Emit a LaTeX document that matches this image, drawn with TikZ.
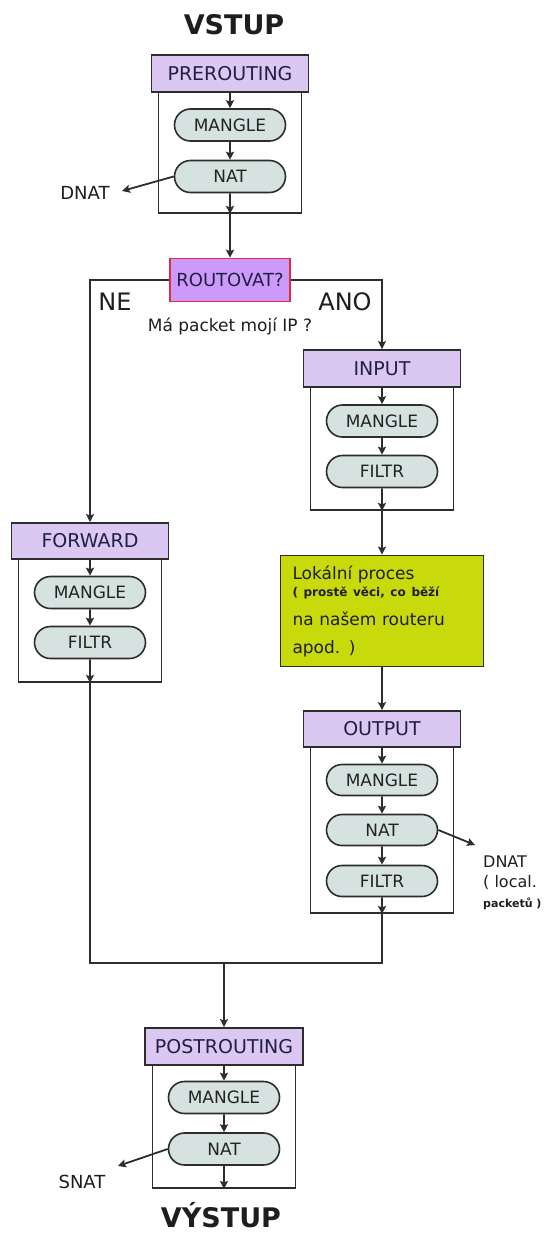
\documentclass[tikz,border=0pt]{standalone}
\usepackage{fontspec}
\setmainfont{DejaVu Sans}
\usetikzlibrary{shapes.misc,arrows.meta,calc}
\definecolor{linec}{RGB}{45,45,45}
\definecolor{hdrfill}{RGB}{218,200,242}
\definecolor{hdrtext}{RGB}{35,30,70}
\definecolor{pillfill}{RGB}{214,226,224}
\definecolor{pilltext}{RGB}{35,35,35}
\definecolor{routfill}{RGB}{204,155,250}
\definecolor{routdraw}{RGB}{228,40,70}
\definecolor{lokfill}{RGB}{200,218,12}
\definecolor{txt}{RGB}{30,30,30}
\begin{document}
\begin{tikzpicture}[x=1pt,y=-1pt,
  line/.style={draw=linec,line width=1.8pt},
  arr/.style={line,-{Stealth[length=8pt,width=8pt,inset=1.5pt]}},
  hdr/.style={draw=linec,line width=1.8pt,fill=hdrfill,minimum width=157pt,minimum height=37pt,inner sep=0pt,font=\fontsize{19}{22}\selectfont,text=hdrtext},
  cont/.style={draw=linec,line width=1.8pt,fill=white,minimum width=143pt,inner sep=0pt},
  pill/.style={rounded rectangle,draw=linec,line width=1.6pt,fill=pillfill,minimum width=111pt,minimum height=32pt,inner sep=0pt,font=\fontsize{17}{20}\selectfont,text=pilltext},
  rout/.style={draw=routdraw,line width=1.6pt,fill=routfill,minimum width=120pt,minimum height=43pt,inner sep=0pt,font=\fontsize{18}{20}\selectfont,text=hdrtext},
  lokbox/.style={draw=linec,line width=1.8pt,fill=lokfill,minimum width=203pt,minimum height=111pt,text width=179pt,align=left,inner sep=0pt,font=\fontsize{17}{28}\selectfont,text=txt},
  title/.style={anchor=base,font=\bfseries\fontsize{27}{30}\selectfont,text=txt},
  lbl/.style={anchor=base,font=\fontsize{18}{20}\selectfont,text=txt},
  branch/.style={anchor=base,font=\fontsize{24}{26}\selectfont,text=txt}
]
\useasboundingbox (0,0) rectangle (555,1234);

% titles
\node[title] (vstup) at (234,34) {VSTUP};
\node[title] (vystup) at (221,1227) {VÝSTUP};

% PREROUTING
\node[cont,minimum height=140pt] (preC) at (230,143) {};
\node[hdr] (preH) at (230,73.5) {PREROUTING};
\node[pill] (preM) at (230,125) {MANGLE};
\node[pill] (preN) at (230,176.5) {NAT};
\draw[arr] (preH) -- (preM);
\draw[arr] (preM) -- (preN);
\draw[arr] (preN) -- (preC.south);
\node[lbl] (dnat1) at (85,199) {DNAT};
\coordinate (dnat1tip) at (122,191);
\draw[arr] (preN.west) -- (dnat1tip);

% ROUTOVAT
\node[rout] (rout) at (230,280) {ROUTOVAT?};
\draw[arr] (preC.south) -- (rout);
\node[branch] (ne) at (115,310) {NE};
\node[branch] (ano) at (345,310) {ANO};
\node[anchor=base,font=\fontsize{17}{20}\selectfont,text=txt] (ma) at (230,331) {Má packet mojí IP ?};

% INPUT
\node[cont,minimum height=141.5pt] (inC) at (382,439.25) {};
\node[hdr] (inH) at (382,368.5) {INPUT};
\node[pill] (inM) at (382,421) {MANGLE};
\node[pill] (inF) at (382,471.5) {FILTR};
\draw[arr] (inH) -- (inM);
\draw[arr] (inM) -- (inF);
\draw[arr] (inF) -- (inC.south);

% local process
\node[lokbox] (lok) at (382,611) {Lokální proces\\[-11pt]{\bfseries\fontsize{12}{14}\selectfont ( prostě věci, co běží}\\[1pt]na našem routeru\\apod. )};
\draw[arr] (inC.south) -- (lok);

% OUTPUT
\node[cont,minimum height=184pt] (outC) at (382,821) {};
\node[hdr,minimum height=36pt] (outH) at (382,729) {OUTPUT};
\node[pill,minimum height=31pt] (outM) at (382,780) {MANGLE};
\node[pill,minimum height=31pt] (outN) at (382,830) {NAT};
\node[pill,minimum height=31pt] (outF) at (382,881) {FILTR};
\draw[arr] (lok) -- (outH);
\draw[arr] (outH) -- (outM);
\draw[arr] (outM) -- (outN);
\draw[arr] (outN) -- (outF);
\draw[arr] (outF) -- (outC.south);
\node[anchor=north west,align=left,inner sep=0pt,font=\fontsize{16}{20}\selectfont,text=txt] (dnat3) at (483,856) {DNAT\\( local.\\{\bfseries\fontsize{11}{13}\selectfont packetů )}};
\coordinate (dnat3tip) at (475,845);
\draw[arr] (outN.east) -- (dnat3tip);

% FORWARD
\node[cont,minimum height=141pt] (fwdC) at (90,611.5) {};
\node[hdr,minimum height=36pt] (fwdH) at (90,541) {FORWARD};
\node[pill] (fwdM) at (90,592.5) {MANGLE};
\node[pill] (fwdF) at (90,642.5) {FILTR};
\draw[arr] (fwdH) -- (fwdM);
\draw[arr] (fwdM) -- (fwdF);
\draw[arr] (fwdF) -- (fwdC.south);

% branches from ROUTOVAT
\draw[arr] (rout.west) -| (fwdH.north);
\draw[arr] (rout.east) -| (inH.north);

% merge
\coordinate (mL) at (90,963);
\coordinate (mR) at (382,963);
\coordinate (mM) at (224,963);
\draw[line] (fwdC.south) -- (mL) -- (mR) -- (outC.south);

% POSTROUTING
\node[cont,minimum height=141.5pt] (postC) at (224,1117.25) {};
\node[hdr,minimum width=158pt] (postH) at (224,1046.5) {POSTROUTING};
\node[pill] (postM) at (224,1097.5) {MANGLE};
\node[pill] (postN) at (224,1149) {NAT};
\draw[arr] (mM) -- (postH);
\draw[arr] (postH) -- (postM);
\draw[arr] (postM) -- (postN);
\draw[arr] (postN) -- (postC.south);
\node[lbl] (snat) at (82,1188) {SNAT};
\coordinate (snattip) at (118,1166);
\draw[arr] (postN.west) -- (snattip);
\end{tikzpicture}
\end{document}
